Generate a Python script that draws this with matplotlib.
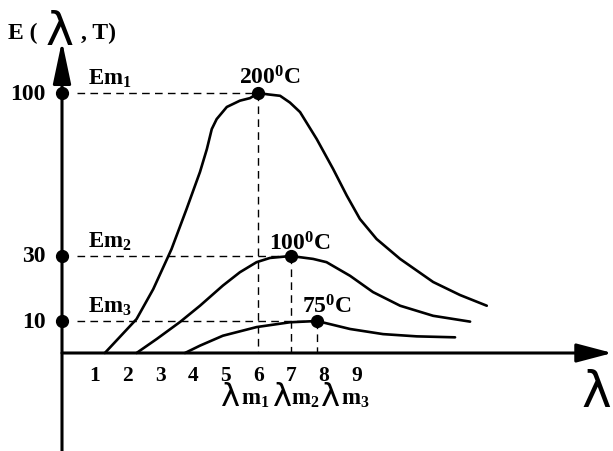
import numpy as np
import matplotlib
matplotlib.use('Agg')
import matplotlib.pyplot as plt

plt.rcParams['lines.scale_dashes'] = False
plt.rcParams['mathtext.fontset'] = 'custom'
plt.rcParams['mathtext.rm'] = 'Liberation Serif:bold'
plt.rcParams['mathtext.bf'] = 'Liberation Serif:bold'
plt.rcParams['mathtext.it'] = 'Liberation Serif:bold'

W, H = 613, 452

# ---------------- data ----------------
x_ticks = [1, 2, 3, 4, 5, 6, 7, 8, 9]
y_ticks = [10, 30, 100]
temps = ['200', '100', '75']
peak_lambda = [6.0, 7.0, 7.8]
peak_E = [100, 30, 10]

c200_x = [1.31, 2.28, 2.79, 3.24, 3.35, 3.81, 4.22, 4.43, 4.58, 4.73, 5.04, 5.44,
          5.75, 6.0, 6.30, 6.67, 6.97, 7.28, 7.79, 8.29, 8.71, 9.11, 9.62, 10.34,
          11.35, 12.17, 12.99]
c200_y = [0, 10.6, 19.8, 29.7, 33.0, 50.2, 66.1, 75.9, 84.5, 88.8, 94.0, 96.7,
          97.8, 100, 99.4, 98.8, 95.9, 91.8, 80.2, 67.4, 55.9, 45.9, 37.3, 29.1,
          22.0, 18.0, 14.7]

c100_x = [2.28, 2.90, 3.61, 4.22, 4.92, 5.44, 5.95, 6.36, 7.0, 7.68, 8.09, 8.81,
          9.51, 10.34, 11.35, 12.48]
c100_y = [0, 4.4, 9.7, 14.7, 20.9, 25.0, 28.1, 29.4, 30, 29.1, 28.1, 23.9,
          18.9, 14.7, 11.6, 9.8]

c75_x = [3.76, 4.22, 4.92, 5.95, 6.97, 7.8, 8.81, 9.82, 10.85, 12.02]
c75_y = [0, 2.3, 5.4, 8.1, 9.6, 10, 7.5, 5.9, 5.2, 4.9]

# ---------------- scale (non-linear schematic y axis) ----------------
Vk = np.array([-100.0, 0.0, 10.0, 30.0, 100.0, 200.0])
Hk = np.array([-320.0, 0.0, 32.0, 97.0, 260.0, 493.0])

def fwd(v):
    return np.interp(v, Vk, Hk)

def inv(h):
    return np.interp(h, Hk, Vk)

fig = plt.figure(figsize=(W / 100, H / 100), dpi=100)
ax = fig.add_axes([0, 0, 1, 1])
ax.set_yscale('function', functions=(fwd, inv))
ax.set_xlim(-62 / 32.7, (W - 62) / 32.7)
ax.set_ylim(inv(-98), inv(354))
ax.axis('off')

x0, x1 = ax.get_xlim()
y0, y1 = ax.get_ylim()

# axes with arrows
ax.annotate('', xy=(x1 - 0.02, 0), xytext=(0, 0),
            arrowprops=dict(arrowstyle='-|>,head_length=2.2,head_width=0.58',
                            mutation_scale=10, lw=2.2, color='black',
                            shrinkA=0, shrinkB=0))
ax.annotate('', xy=(0, inv(312)), xytext=(0, y0),
            arrowprops=dict(arrowstyle='-|>,head_length=2.6,head_width=0.55',
                            mutation_scale=10, lw=2.2, color='black',
                            shrinkA=0, shrinkB=0))

# curves
for xs, ys in [(c200_x, c200_y), (c100_x, c100_y), (c75_x, c75_y)]:
    ax.plot(xs, ys, color='black', lw=1.9, solid_capstyle='round',
            solid_joinstyle='round')

# dashed guides and dots
for lx, e in zip(peak_lambda, peak_E):
    ax.plot([0.45, lx], [e, e], color='black', lw=1.0, dashes=(5.5, 3.8))
    ax.plot([lx, lx], [e, 0], color='black', lw=1.0, dashes=(5.5, 3.8))
    ax.plot([lx], [e], 'o', color='black', ms=8.5)
    ax.plot([0], [e], 'o', color='black', ms=8.5)

serif = 'Liberation Serif'

def ftext(px, py, s, **kw):
    kw.setdefault('family', serif)
    kw.setdefault('weight', 'bold')
    kw.setdefault('color', 'black')
    fig.text(px / W, 1 - py / H, s, **kw)

# y tick labels
for v in y_ticks:
    ax.annotate(str(v), xy=(0, v), xytext=(-12, 0), textcoords='offset points',
                ha='right', va='center', fontsize=17, family=serif, weight='bold')

# x tick labels
for t in x_ticks:
    ax.annotate(str(t), xy=(t, 0), xytext=(0, -15.5), textcoords='offset points',
                ha='center', va='center', fontsize=15.5, family=serif, weight='bold')

# Em labels
for i, e in enumerate(peak_E):
    ax.annotate(r'$\mathbf{Em_{%d}}$' % (i + 1), xy=(0, e), xytext=(18.5, 11.5),
                textcoords='offset points', ha='left', va='center', fontsize=16.5)

# temperature labels
offs = [(8.6, 12.0), (6.5, 9.5), (7.2, 11.0)]
for lx, e, t, o in zip(peak_lambda, peak_E, temps, offs):
    ax.annotate(r'$\mathbf{%s^{0}C}$' % t, xy=(lx, e), xytext=o,
                textcoords='offset points', ha='center', va='center', fontsize=17)

# lambda_m labels under axis
lam_px = [221, 273, 321]
m_px = [241, 291, 341]
for i, (px, mx) in enumerate(zip(lam_px, m_px)):
    ftext(px, 406, 'λ', fontsize=23, weight='normal', family='DejaVu Sans',
          ha='left', va='baseline')
    ftext(mx, 405, r'$\mathbf{m_{%d}}$' % (i + 1), fontsize=16.5,
          ha='left', va='baseline')

# axis titles
ftext(8, 33, 'E (', fontsize=17, ha='left', va='center')
ftext(46, 45, 'λ', fontsize=34, weight='normal', family='DejaVu Sans',
      ha='left', va='baseline')
ftext(81, 33, ', T)', fontsize=17, ha='left', va='center')
ftext(581, 407, 'λ', fontsize=36, weight='normal', family='DejaVu Sans',
      ha='left', va='baseline')

fig.savefig('out.png', dpi=100)
